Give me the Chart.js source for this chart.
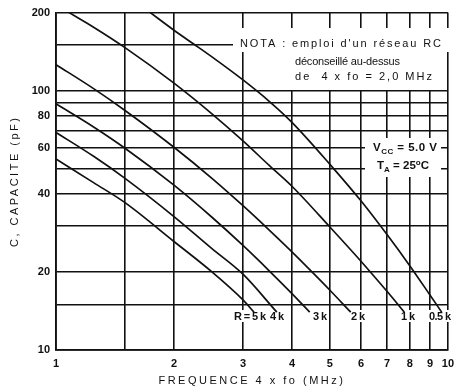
<!DOCTYPE html>
<html lang="fr">
<head>
    <meta charset="UTF-8">
    <title>Capacité en fonction de la fréquence</title>
    <script src="https://cdn.jsdelivr.net/npm/chart.js"></script>
    <style>
        html, body { margin: 0; padding: 0; background: #fff; }
        .chart-container { position: relative; width: 461px; height: 389px; }
    </style>
</head>
<body>

    <div class="chart-container">
        <canvas id="capChart"></canvas>
    </div>

    <script>
        // Curves: frequency 4 x fo (MHz) -> capacitance (pF)
        const rLabels = ['R = 5 k', '4 k', '3 k', '2 k', '1 k', '0.5 k'];

        const freq5k = [1, 1.25, 1.5, 2, 2.5, 3, 3.2];
        const cap5k  = [54.5, 44.1, 37, 26.2, 20, 15.6, 14];

        const freq4k = [1, 1.25, 1.5, 2, 2.5, 3, 3.66];
        const cap4k  = [69, 55.7, 45.9, 32.7, 24.6, 19.6, 14];

        const freq3k = [1, 1.25, 1.5, 2, 2.5, 3, 3.5, 4, 4.44];
        const cap3k  = [89, 72.3, 60, 43.2, 32.5, 25.3, 20.2, 16.5, 14];

        const freq2k = [1, 1.25, 1.5, 2, 2.5, 3, 3.5, 4, 4.5, 5, 5.65];
        const cap2k  = [126, 101.6, 83.9, 60.5, 45.9, 36, 29, 23.9, 20, 17, 14];

        const freq1k = [1.08, 1.25, 1.5, 2, 2.5, 3, 3.5, 4, 5, 6, 7, 7.74];
        const cap1k  = [200, 175.3, 146.6, 106.9, 81.4, 64, 51.5, 42.8, 29.8, 22, 16.8, 14];

        const freq05k = [1.74, 2, 2.25, 2.5, 3, 3.5, 4, 5, 6, 7, 8, 9, 9.64];
        const cap05k  = [200, 171, 151, 135, 110, 91, 75.5, 52, 37.6, 27.8, 21.1, 16.3, 14];

        // Grid lines and which of them carry a label
        const xGridValues = [1, 1.5, 2, 3, 4, 5, 6, 7, 8, 9, 10];
        const xTickLabels = [1, 2, 3, 4, 5, 6, 7, 8, 9, 10];
        const yGridValues = [10, 15, 20, 30, 40, 50, 60, 70, 80, 90, 100, 150, 200];
        const yTickLabels = [10, 20, 40, 60, 80, 100, 200];

        const curves = [
            [freq5k, cap5k], [freq4k, cap4k], [freq3k, cap3k],
            [freq2k, cap2k], [freq1k, cap1k], [freq05k, cap05k]
        ];

        const INK = '#111';
        const SANS = '"Liberation Sans", Arial, sans-serif';

        // White patches behind the printed notes (they hide the grid there)
        const masks = [
            [233, 28, 218, 24],
            [285, 52, 157, 38],
            [365, 138, 76, 39]
        ];
        const notaLines = [
            { text: "NOTA : emploi d'un réseau RC", x: 240, y: 47, w: 201 },
            { text: 'déconseillé au-dessus', x: 295, y: 65, w: 105 },
            { text: 'de  4 x fo = 2,0 MHz', x: 295, y: 80, w: 137 }
        ];
        const rLabelX = [234, 270, 313, 351, 401, 429];

        function fitText(ctx, text, x, y, width) {
            ctx.letterSpacing = '0px';
            const natural = ctx.measureText(text).width;
            const gap = (width - natural) / (text.length - 1);
            ctx.letterSpacing = gap + 'px';
            ctx.fillText(text, x, y);
            ctx.letterSpacing = '0px';
        }

        // text runs with subscripts / superscripts, stretched to a given width
        function drawRuns(ctx, runs, x, y, width) {
            const fontFor = r => 'bold ' + (r.sub || r.sup ? 8 : 11.5) + 'px ' + SANS;
            ctx.letterSpacing = '0px';
            let natural = 0, count = 0;
            runs.forEach(r => {
                ctx.font = fontFor(r);
                natural += ctx.measureText(r.t).width;
                count += r.t.length;
            });
            const gap = (width - natural) / (count - 1);
            ctx.letterSpacing = gap + 'px';
            runs.forEach(r => {
                ctx.font = fontFor(r);
                const dy = r.sub ? 3 : (r.sup ? -4 : 0);
                ctx.fillText(r.t, x, y + dy);
                x += ctx.measureText(r.t).width;
            });
            ctx.letterSpacing = '0px';
        }

        const notesPlugin = {
            id: 'notes',
            beforeDraw(chart) {
                // axis titles are printed letter-spaced
                chart.ctx.letterSpacing = '2.5px';
            },
            beforeDatasetsDraw(chart) {
                const ctx = chart.ctx;
                ctx.letterSpacing = '0px';
                ctx.save();
                ctx.fillStyle = '#fff';
                masks.forEach(m => ctx.fillRect(m[0], m[1], m[2], m[3]));

                ctx.fillStyle = INK;
                ctx.textBaseline = 'alphabetic';
                ctx.textAlign = 'left';
                ctx.font = '11px ' + SANS;
                notaLines.forEach(l => fitText(ctx, l.text, l.x, l.y, l.w));

                drawRuns(ctx, [{ t: 'V' }, { t: 'CC', sub: true }, { t: ' = 5.0 V' }], 373, 151, 64);
                drawRuns(ctx, [{ t: 'T' }, { t: 'A', sub: true }, { t: ' = 25' }, { t: 'o', sup: true }, { t: 'C' }], 377, 169, 52);

                // resistor labels under the curve ends, set a little tight
                ctx.font = 'bold 11px ' + SANS;
                ctx.letterSpacing = '-0.6px';
                const widths = rLabels.map(t => ctx.measureText(t).width);
                ctx.fillStyle = '#fff';
                rLabels.forEach((t, i) => ctx.fillRect(rLabelX[i] - 2, 310, widths[i] + 3, 12));
                ctx.fillStyle = INK;
                rLabels.forEach((t, i) => ctx.fillText(t, rLabelX[i], 320));
                ctx.letterSpacing = '0px';
                ctx.restore();
            }
        };

        const ctx = document.getElementById('capChart').getContext('2d');
        const capChart = new Chart(ctx, {
            type: 'scatter',
            data: {
                datasets: curves.map(([f, c], i) => ({
                    label: rLabels[i],
                    data: f.map((x, j) => ({ x: x, y: c[j] })),
                    showLine: true,
                    borderColor: INK,
                    borderWidth: 1.7,
                    pointRadius: 0,
                    cubicInterpolationMode: 'monotone'
                }))
            },
            options: {
                responsive: true,
                maintainAspectRatio: false,
                animation: false,
                events: [],
                layout: { padding: { top: 9, right: 5, bottom: 0, left: 0 } },
                plugins: {
                    legend: { display: false },
                    tooltip: { enabled: false }
                },
                scales: {
                    x: {
                        type: 'logarithmic',
                        min: 1,
                        max: 10,
                        afterBuildTicks: (axis) => { axis.ticks = xGridValues.map(v => ({ value: v })); },
                        afterFit: (axis) => { axis.height = 39; },
                        grid: { color: INK, lineWidth: 1.6, drawTicks: false },
                        border: { color: INK, width: 1.8 },
                        ticks: {
                            z: 1,
                            autoSkip: false,
                            maxRotation: 0,
                            padding: 7,
                            color: INK,
                            font: { family: SANS, size: 11, weight: 'bold' },
                            callback: (v) => xTickLabels.includes(v) ? String(v) : ''
                        },
                        title: {
                            display: true,
                            text: 'FREQUENCE 4 x fo (MHz)',
                            color: INK,
                            font: { family: SANS, size: 11 },
                            padding: { top: 0, bottom: 1 }
                        }
                    },
                    y: {
                        type: 'logarithmic',
                        min: 10,
                        max: 200,
                        afterBuildTicks: (axis) => { axis.ticks = yGridValues.map(v => ({ value: v })); },
                        afterFit: (axis) => { axis.width = 56; },
                        grid: { color: INK, lineWidth: 1.6, drawTicks: false },
                        border: { color: INK, width: 1.8 },
                        ticks: {
                            z: 1,
                            autoSkip: false,
                            padding: 6,
                            color: INK,
                            font: { family: SANS, size: 11, weight: 'bold' },
                            callback: (v) => yTickLabels.includes(v) ? String(v) : ''
                        },
                        title: {
                            display: true,
                            text: 'C, CAPACITE (pF)',
                            color: INK,
                            font: { family: SANS, size: 11 },
                            padding: { top: 8, bottom: 0 }
                        }
                    }
                }
            },
            plugins: [notesPlugin]
        });
    </script>

</body>
</html>
